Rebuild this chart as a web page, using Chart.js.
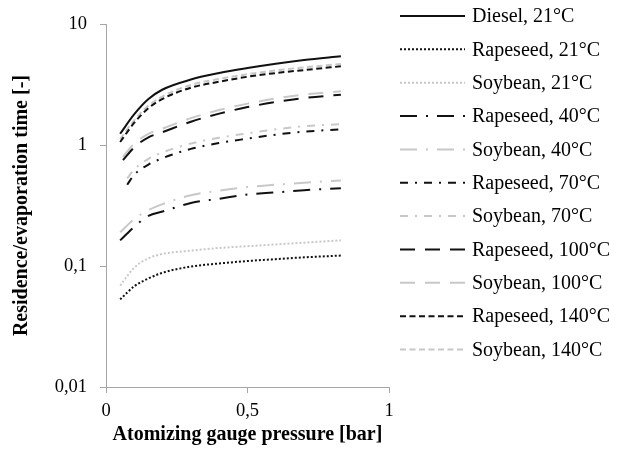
<!DOCTYPE html>
<html>
<head>
<meta charset="utf-8">
<script src="https://cdn.jsdelivr.net/npm/chart.js@4.4.0/dist/chart.umd.min.js"></script>
<style>
  html, body { margin: 0; padding: 0; background: #fff; }
</style>
</head>
<body>
<canvas id="chart" width="628" height="450"></canvas>
<script>
// pressures (bar) at which the curves were read
const pressure    = [0.05, 0.1, 0.15, 0.2, 0.3, 0.4, 0.5, 0.6, 0.7, 0.83];
const pressure100 = [0.06, 0.1, 0.15, 0.2, 0.3, 0.4, 0.5, 0.6, 0.7, 0.83];
const pressure70  = [0.075, 0.1, 0.15, 0.2, 0.3, 0.4, 0.5, 0.6, 0.7, 0.83];

// residence / evaporation time ratio [-]
const diesel21     = [1.24, 1.80, 2.40, 2.88, 3.48, 3.94, 4.33, 4.70, 5.04, 5.42];
const rapeseed21   = [0.053, 0.068, 0.079, 0.088, 0.099, 0.105, 0.110, 0.114, 0.118, 0.122];
const soybean21    = [0.069, 0.097, 0.116, 0.126, 0.134, 0.141, 0.146, 0.151, 0.156, 0.163];
const rapeseed40   = [0.163, 0.211, 0.26, 0.282, 0.332, 0.36, 0.39, 0.406, 0.424, 0.44];
const soybean40    = [0.19, 0.245, 0.29, 0.325, 0.385, 0.42, 0.45, 0.47, 0.488, 0.51];
const rapeseed70   = [0.47, 0.57, 0.69, 0.78, 0.93, 1.04, 1.13, 1.22, 1.29, 1.35];
const soybean70    = [0.53, 0.63, 0.77, 0.87, 1.03, 1.15, 1.25, 1.35, 1.43, 1.49];
const rapeseed100  = [0.75, 0.96, 1.16, 1.28, 1.56, 1.82, 2.06, 2.27, 2.45, 2.61];
const soybean100   = [0.80, 1.03, 1.24, 1.37, 1.67, 1.95, 2.20, 2.43, 2.62, 2.78];
const rapeseed140  = [1.06, 1.53, 2.02, 2.41, 2.98, 3.34, 3.67, 3.94, 4.17, 4.48];
const soybean140   = [1.12, 1.61, 2.12, 2.53, 3.14, 3.52, 3.85, 4.14, 4.39, 4.68];

const xTicks = [0, 0.5, 1];
const xLabels = ['0', '0,5', '1'];
const yTicks = [0.01, 0.1, 1, 10];
const yLabels = ['0,01', '0,1', '1', '10'];

const BLACK = '#111111';
const GREY = '#c8c8c8';
const SERIF = '"Liberation Serif", "Times New Roman", serif';

function pts(xs, ys) {
  return xs.map((x, i) => ({ x: x, y: ys[i] }));
}

function line(label, xs, ys, color, dash) {
  return {
    label: label,
    data: pts(xs, ys),
    borderColor: color,
    backgroundColor: color,
    borderWidth: 2,
    borderDash: dash,
    pointRadius: 0,
    fill: false,
    cubicInterpolationMode: 'monotone'
  };
}

const DOT = [2, 2];
const LONGDASHDOT = [17, 9, 2, 9];
const DASHDOT = [8, 7, 2, 7];
const LONGDASH = [15, 10];
const SHORTDASH = [6, 3.5];

// legend drawn by hand on the right, one row per dataset
const sideLegend = {
  id: 'sideLegend',
  afterDraw(chart) {
    const ctx = chart.ctx;
    chart.data.datasets.forEach((ds, i) => {
      const y = 16 + i * 33.35;
      ctx.save();
      ctx.strokeStyle = ds.borderColor;
      ctx.lineWidth = ds.borderWidth;
      ctx.setLineDash(ds.borderDash || []);
      ctx.beginPath();
      ctx.moveTo(400, y);
      ctx.lineTo(465, y);
      ctx.stroke();
      ctx.setLineDash([]);
      ctx.fillStyle = '#000';
      ctx.font = '20px ' + SERIF;
      ctx.textBaseline = 'middle';
      ctx.fillText(ds.label, 472, y + 1);
      ctx.restore();
    });
  }
};

new Chart(document.getElementById('chart'), {
  type: 'line',
  data: {
    datasets: [
      line('Diesel, 21°C', pressure, diesel21, BLACK, []),
      line('Rapeseed, 21°C', pressure, rapeseed21, BLACK, DOT),
      line('Soybean, 21°C', pressure, soybean21, GREY, DOT),
      line('Rapeseed, 40°C', pressure, rapeseed40, BLACK, LONGDASHDOT),
      line('Soybean, 40°C', pressure, soybean40, GREY, LONGDASHDOT),
      line('Rapeseed, 70°C', pressure70, rapeseed70, BLACK, DASHDOT),
      line('Soybean, 70°C', pressure70, soybean70, GREY, DASHDOT),
      line('Rapeseed, 100°C', pressure100, rapeseed100, BLACK, LONGDASH),
      line('Soybean, 100°C', pressure100, soybean100, GREY, LONGDASH),
      line('Rapeseed, 140°C', pressure, rapeseed140, BLACK, SHORTDASH),
      line('Soybean, 140°C', pressure, soybean140, GREY, SHORTDASH)
    ]
  },
  options: {
    responsive: false,
    animation: false,
    layout: { padding: { top: 22, right: 239, bottom: 0, left: 0 } },
    plugins: {
      legend: { display: false },
      tooltip: { enabled: false }
    },
    scales: {
      x: {
        type: 'linear',
        min: 0,
        max: 1,
        afterBuildTicks: axis => { axis.ticks = xTicks.map(v => ({ value: v })); },
        afterFit: s => { s.height = 63; },
        ticks: {
          callback: (v, i) => xLabels[i],
          color: '#000',
          font: { family: SERIF, size: 18.5 },
          padding: 7,
          maxRotation: 0
        },
        grid: { drawOnChartArea: false, drawTicks: true, tickLength: 6, color: '#a6a6a6' },
        border: { display: true, color: '#a6a6a6', width: 1 },
        title: {
          display: true,
          text: 'Atomizing gauge pressure [bar]',
          color: '#000',
          font: { family: SERIF, size: 20, weight: 'bold' },
          padding: { top: 0, bottom: 3 }
        }
      },
      y: {
        type: 'logarithmic',
        min: 0.01,
        max: 10,
        afterBuildTicks: axis => { axis.ticks = yTicks.map(v => ({ value: v })); },
        afterFit: s => { s.width = 106; },
        ticks: {
          callback: (v, i) => yLabels[i],
          color: '#000',
          font: { family: SERIF, size: 18.5 },
          padding: 13
        },
        grid: { drawOnChartArea: false, drawTicks: true, tickLength: 6, color: '#a6a6a6' },
        border: { display: true, color: '#a6a6a6', width: 1 },
        title: {
          display: true,
          text: 'Residence/evaporation time [-]',
          color: '#000',
          font: { family: SERIF, size: 20, weight: 'bold' },
          padding: { top: 10, bottom: 0 }
        }
      }
    }
  },
  plugins: [sideLegend]
});
</script>
</body>
</html>
